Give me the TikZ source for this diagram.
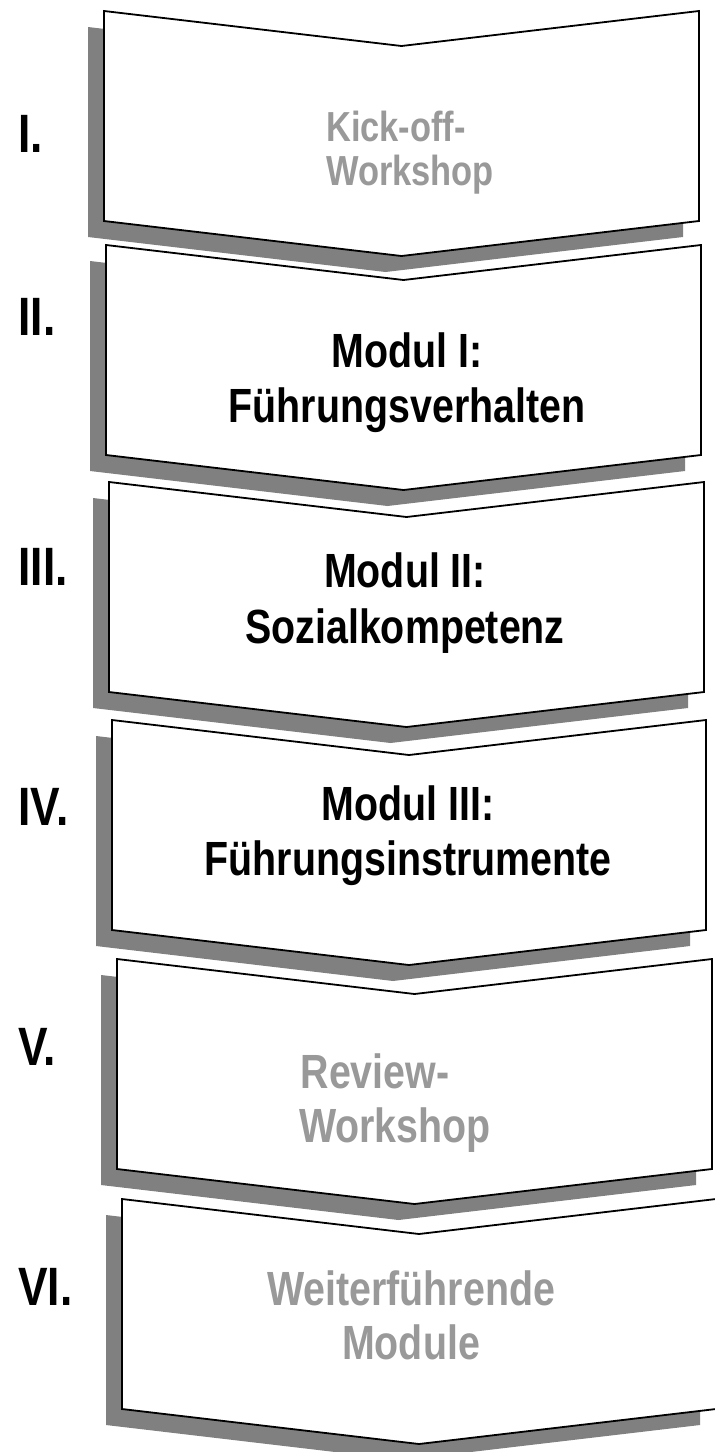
\documentclass[tikz,border=0pt]{standalone}
\usepackage{fontspec}
\newfontfamily\narrowfont{Liberation Sans}[FakeStretch=0.82]

\begin{document}
\begin{tikzpicture}[x=0.5pt,y=-0.5pt]
\tikzset{phase/.style = {draw=black,line width=0.9pt,fill=white,line join=miter}}
\tikzset{shade/.style = {fill=black!50,shift={(-16,16)}}}
\tikzset{label/.style = {anchor=base,inner sep=0pt,
  font=\narrowfont\bfseries\fontsize{24}{28}\selectfont}}
\tikzset{faded/.style = {label,text=black!40}}
\tikzset{number/.style = {anchor=base west,inner sep=0pt,
  font=\narrowfont\bfseries\fontsize{27}{30}\selectfont}}
\useasboundingbox (0,0) rectangle (714,1452);

% chevrons (left/top/right)
\foreach \l/\t/\r in {104/11/699,106/245/701,109/482/704,112/720/706,117/959/712,122/1199/716}{
  \pgfmathsetmacro{\m}{(\l+\r)/2}
  \pgfmathsetmacro{\b}{\t+210}
  \fill[shade] (\l,\t) -- (\m,\t+35) -- (\r,\t) -- (\r,\b) -- (\m,\b+35) -- (\l,\b) -- cycle;
  \draw[phase] (\l,\t) -- (\m,\t+35) -- (\r,\t) -- (\r,\b) -- (\m,\b+35) -- (\l,\b) -- cycle;
}

% numbers
\node[number] (n1) at (18,152) {I.};
\node[number] (n2) at (18,335) {II.};
\node[number] (n3) at (18,585) {III.};
\node[number] (n4) at (18,825) {IV.};
\node[number] (n5) at (18,1065) {V.};
\node[number] (n6) at (18,1305) {VI.};

% labels
\node[faded,font=\narrowfont\bfseries\fontsize{21}{25}\selectfont] (k1) at (396,141) {Kick-off-};
\node[faded,font=\narrowfont\bfseries\fontsize{21}{25}\selectfont] (w1) at (410,185) {Workshop};
\node[label] (m1) at (407,367) {Modul I:};
\node[label] (f1) at (407,422) {Führungsverhalten};
\node[label] (m2) at (405,587) {Modul II:};
\node[label] (s2) at (405,643) {Sozialkompetenz};
\node[label] (m3) at (408,820) {Modul III:};
\node[label] (f3) at (408,875) {Führungsinstrumente};
\node[faded] (r5) at (375,1088) {Review-};
\node[faded] (w5) at (395,1142) {Workshop};
\node[faded] (w6) at (411,1305) {Weiterführende};
\node[faded] (m6) at (411,1359) {Module};
\end{tikzpicture}
\end{document}
